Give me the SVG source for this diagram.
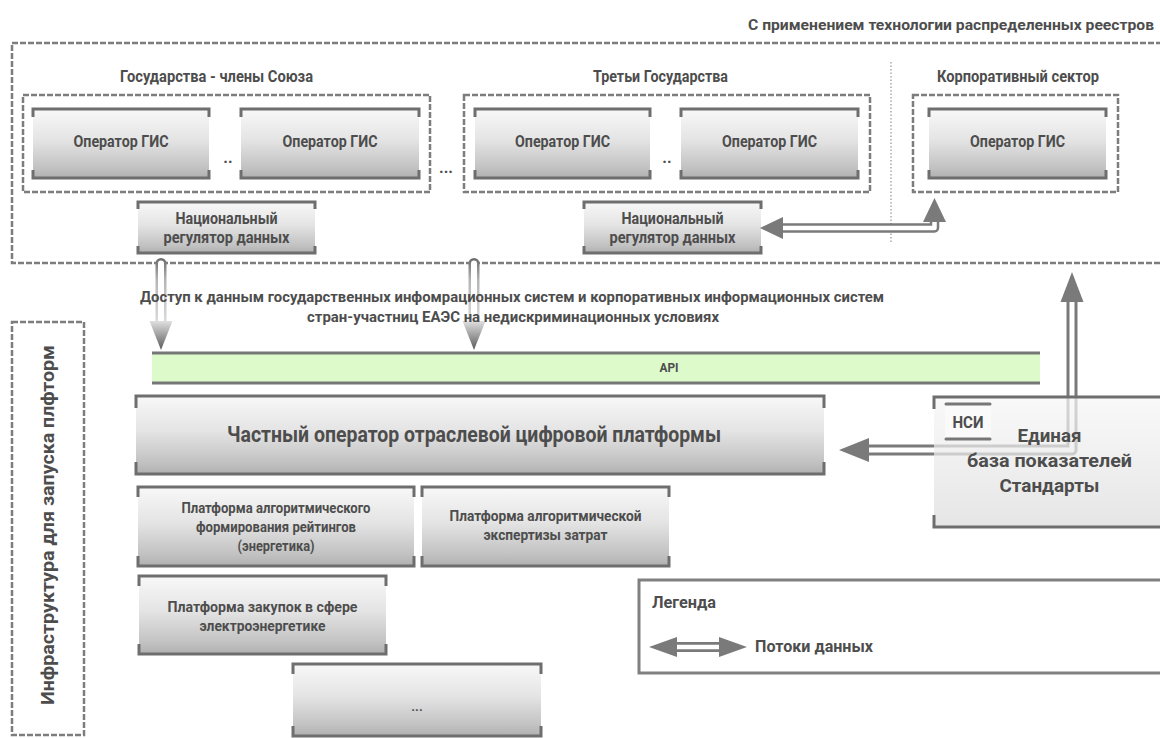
<svg xmlns="http://www.w3.org/2000/svg" width="1160" height="738" viewBox="0 0 1160 738">
<defs>
<linearGradient id="gBox" x1="0" y1="0" x2="0" y2="1">
<stop offset="0" stop-color="#f8f8f8"/>
<stop offset="0.45" stop-color="#e4e4e4"/>
<stop offset="0.85" stop-color="#c2c2c2"/>
<stop offset="1" stop-color="#b0b0b0"/>
</linearGradient>
<linearGradient id="gNsi" x1="0" y1="0" x2="0" y2="1">
<stop offset="0" stop-color="#f7f7f7"/>
<stop offset="1" stop-color="#dcdcdc"/>
</linearGradient>
<linearGradient id="gShaft1" gradientUnits="userSpaceOnUse" x1="0" y1="258" x2="0" y2="321">
<stop offset="0" stop-color="#6a6a6a"/>
<stop offset="0.35" stop-color="#b5b5b5"/>
<stop offset="1" stop-color="#dadada"/>
</linearGradient>
<linearGradient id="gHead1" gradientUnits="userSpaceOnUse" x1="0" y1="321" x2="0" y2="350">
<stop offset="0" stop-color="#e0e0e0"/>
<stop offset="1" stop-color="#5a5a5a"/>
</linearGradient>
<style>
text{font-family:Roboto,"Liberation Sans",sans-serif;font-weight:700;fill:#4d4d4d}
.box{fill:url(#gBox)}
.br{fill:none;stroke:#6e6e6e;stroke-width:3}
.dash{fill:none;stroke:#7d7d7d;stroke-width:2.5;stroke-dasharray:6 2}
.c{text-anchor:middle}
.out{fill:none;stroke:#7a7a7a;stroke-linejoin:round}
.in{fill:none;stroke:#ffffff;stroke-linejoin:round}
.head{fill:#7a7a7a}
</style>
</defs>

<!-- containers -->
<g id="containers">
<rect class="dash" x="12" y="43" width="1160" height="220"/>
<text x="1154" y="30" font-size="15.5" text-anchor="end" textLength="406" lengthAdjust="spacingAndGlyphs">С применением технологии распределенных реестров</text>
<rect class="dash" x="23" y="95" width="407" height="97"/>
<text x="120" y="82" font-size="16" textLength="193" lengthAdjust="spacingAndGlyphs">Государства - члены Союза</text>
<rect class="dash" x="464" y="95" width="406" height="97"/>
<text x="593" y="82" font-size="16" textLength="135" lengthAdjust="spacingAndGlyphs">Третьи Государства</text>
<rect class="dash" x="913" y="95" width="205" height="97"/>
<text x="937" y="82" font-size="16" textLength="162" lengthAdjust="spacingAndGlyphs">Корпоративный сектор</text>
<line x1="891" y1="62" x2="891" y2="242" stroke="#aaaaaa" stroke-width="1.5" stroke-dasharray="1.5 2"/>
<text x="228" y="163" font-size="16" class="c">..</text>
<text x="446" y="173" font-size="16" class="c">...</text>
<text x="667" y="163" font-size="16" class="c">..</text>
<rect class="dash" x="12" y="322" width="72" height="413"/>
<text transform="translate(54,525) rotate(-90)" font-size="18" class="c" textLength="360" lengthAdjust="spacingAndGlyphs">Инфраструктура для запуска плфторм</text>
</g>

<g id="op1">
<rect class="box" x="33" y="109" width="176" height="69"/>
<path class="br" d="M33,117V109H209V117M33,170V178H209V170"/>
<text x="121" y="147" font-size="16" class="c" textLength="95" lengthAdjust="spacingAndGlyphs">Оператор ГИС</text>
</g>
<g id="op2">
<rect class="box" x="241" y="109" width="178" height="69"/>
<path class="br" d="M241,117V109H419V117M241,170V178H419V170"/>
<text x="330" y="147" font-size="16" class="c" textLength="95" lengthAdjust="spacingAndGlyphs">Оператор ГИС</text>
</g>
<g id="op3">
<rect class="box" x="475" y="109" width="175" height="69"/>
<path class="br" d="M475,117V109H650V117M475,170V178H650V170"/>
<text x="562.5" y="147" font-size="16" class="c" textLength="95" lengthAdjust="spacingAndGlyphs">Оператор ГИС</text>
</g>
<g id="op4">
<rect class="box" x="681" y="109" width="177" height="69"/>
<path class="br" d="M681,117V109H858V117M681,170V178H858V170"/>
<text x="769.5" y="147" font-size="16" class="c" textLength="95" lengthAdjust="spacingAndGlyphs">Оператор ГИС</text>
</g>
<g id="op5">
<rect class="box" x="929" y="109" width="177" height="69"/>
<path class="br" d="M929,117V109H1106V117M929,170V178H1106V170"/>
<text x="1017.5" y="147" font-size="16" class="c" textLength="95" lengthAdjust="spacingAndGlyphs">Оператор ГИС</text>
</g>
<g id="reg1">
<rect class="box" x="138" y="202" width="177" height="51"/>
<path class="br" d="M138,209V202H315V209M138,246V253H315V246"/>
<text x="226.5" y="224" font-size="16" class="c" textLength="102" lengthAdjust="spacingAndGlyphs">Национальный</text>
<text x="226.5" y="243" font-size="16" class="c" textLength="126" lengthAdjust="spacingAndGlyphs">регулятор данных</text>
</g>
<g id="reg2">
<rect class="box" x="584" y="202" width="177" height="51"/>
<path class="br" d="M584,209V202H761V209M584,246V253H761V246"/>
<text x="672.5" y="224" font-size="16" class="c" textLength="102" lengthAdjust="spacingAndGlyphs">Национальный</text>
<text x="672.5" y="243" font-size="16" class="c" textLength="126" lengthAdjust="spacingAndGlyphs">регулятор данных</text>
</g>

<g id="api">
<rect x="152" y="353" width="888" height="30" fill="#ddfacb"/>
<path d="M152,353H1040M152,383H1040" stroke="#777777" stroke-width="3"/>
<text x="669" y="372" font-size="12.5" class="c" textLength="19" lengthAdjust="spacingAndGlyphs">API</text>
</g>

<g id="main">
<rect class="box" x="136" y="396" width="688" height="78"/>
<path class="br" d="M136,408V396H824V408M136,462V474H824V462"/>
<text x="474" y="442" font-size="22" class="c" textLength="494" lengthAdjust="spacingAndGlyphs">Частный оператор отраслевой цифровой платформы</text>
</g>

<g id="p1">
<rect class="box" x="138" y="487" width="276" height="79"/>
<path class="br" d="M138,497V487H414V497M138,556V566H414V556"/>
<text x="276" y="513" font-size="14" class="c" textLength="189" lengthAdjust="spacingAndGlyphs">Платформа алгоритмического</text>
<text x="276" y="532" font-size="14" class="c" textLength="160" lengthAdjust="spacingAndGlyphs">формирования рейтингов</text>
<text x="276" y="551" font-size="14" class="c" textLength="77" lengthAdjust="spacingAndGlyphs">(энергетика)</text>
</g>
<g id="p2">
<rect class="box" x="422" y="487" width="247" height="79"/>
<path class="br" d="M422,497V487H669V497M422,556V566H669V556"/>
<text x="545.5" y="521" font-size="14.5" class="c" textLength="192" lengthAdjust="spacingAndGlyphs">Платформа алгоритмической</text>
<text x="545.5" y="540" font-size="14.5" class="c" textLength="124" lengthAdjust="spacingAndGlyphs">экспертизы затрат</text>
</g>
<g id="p3">
<rect class="box" x="139" y="576" width="247" height="78"/>
<path class="br" d="M139,586V576H386V586M139,644V654H386V644"/>
<text x="262.5" y="612" font-size="15" class="c" textLength="190" lengthAdjust="spacingAndGlyphs">Платформа закупок в сфере</text>
<text x="262.5" y="631" font-size="15" class="c" textLength="126" lengthAdjust="spacingAndGlyphs">электроэнергетике</text>
</g>
<g id="p4">
<rect class="box" x="293" y="664" width="248" height="72"/>
<path class="br" d="M293,674V664H541V674M293,726V736H541V726"/>
<text x="417" y="711" font-size="13" class="c">...</text>
</g>

<g id="legend">
<rect x="639" y="580" width="530" height="93" fill="#ffffff" stroke="#808080" stroke-width="3"/>
<text x="652" y="608" font-size="16" textLength="64" lengthAdjust="spacingAndGlyphs">Легенда</text>
<path class="out" stroke-width="10" d="M675,647H721"/>
<path class="in" stroke-width="4.5" d="M675,647H721"/>
<polygon class="head" points="649,647 677,637 677,657"/>
<polygon class="head" points="747,647 719,637 719,657"/>
<text x="755" y="652" font-size="16" textLength="118" lengthAdjust="spacingAndGlyphs">Потоки данных</text>
</g>

<g id="connectors">
<path d="M161,263.5V323" fill="none" stroke="url(#gShaft1)" stroke-width="11" stroke-linecap="round"/>
<path d="M161,263.5V323" fill="none" stroke="#ffffff" stroke-width="6" stroke-linecap="round"/>
<polygon points="149.5,321 172.5,321 161,350" fill="url(#gHead1)"/>
<path d="M474,263.5V323" fill="none" stroke="url(#gShaft1)" stroke-width="11" stroke-linecap="round"/>
<path d="M474,263.5V323" fill="none" stroke="#ffffff" stroke-width="6" stroke-linecap="round"/>
<polygon points="462.5,321 485.5,321 474,350" fill="url(#gHead1)"/>

<path class="out" stroke-width="9.5" d="M780,228H934.5V219"/>
<path class="in" stroke-width="4.5" d="M780,228H934.5V219"/>
<polygon class="head" points="760,228 783,217 783,239"/>
<polygon class="head" points="934.5,198 923,222 946,222"/>

<path class="out" stroke-width="11" d="M866,450H1072V300"/>
<path class="in" stroke-width="5" d="M866,450H1072V300"/>
<polygon class="head" points="839,450 869,438 869,462"/>
<polygon class="head" points="1072,272 1060.5,302 1083.5,302"/>
</g>

<g id="access-label">
<text x="512" y="302" font-size="15" class="c" textLength="744" lengthAdjust="spacingAndGlyphs">Доступ к данным государственных инфомрационных систем и корпоративных информационных систем</text>
<text x="513" y="322" font-size="15" class="c" textLength="412" lengthAdjust="spacingAndGlyphs">стран-участниц ЕАЭС на недискриминационных условиях</text>
</g>

<g id="nsi">
<rect x="934" y="397" width="240" height="130" fill="url(#gNsi)" fill-opacity="0.72"/>
<path class="br" d="M934,409V397H1170M934,515V527H1170"/>
<rect x="945" y="404" width="46" height="35" fill="#fafafa"/>
<path d="M946,404H990M946,439H990" stroke="#777777" stroke-width="3" stroke-linecap="round"/>
<text x="968" y="428" font-size="16" class="c" textLength="31" lengthAdjust="spacingAndGlyphs">НСИ</text>
<text x="1049.5" y="442" font-size="19" class="c" textLength="64" lengthAdjust="spacingAndGlyphs">Единая</text>
<text x="1049.5" y="467" font-size="19" class="c" textLength="165" lengthAdjust="spacingAndGlyphs">база показателей</text>
<text x="1049.5" y="492" font-size="19" class="c" textLength="100" lengthAdjust="spacingAndGlyphs">Стандарты</text>
</g>
</svg>
